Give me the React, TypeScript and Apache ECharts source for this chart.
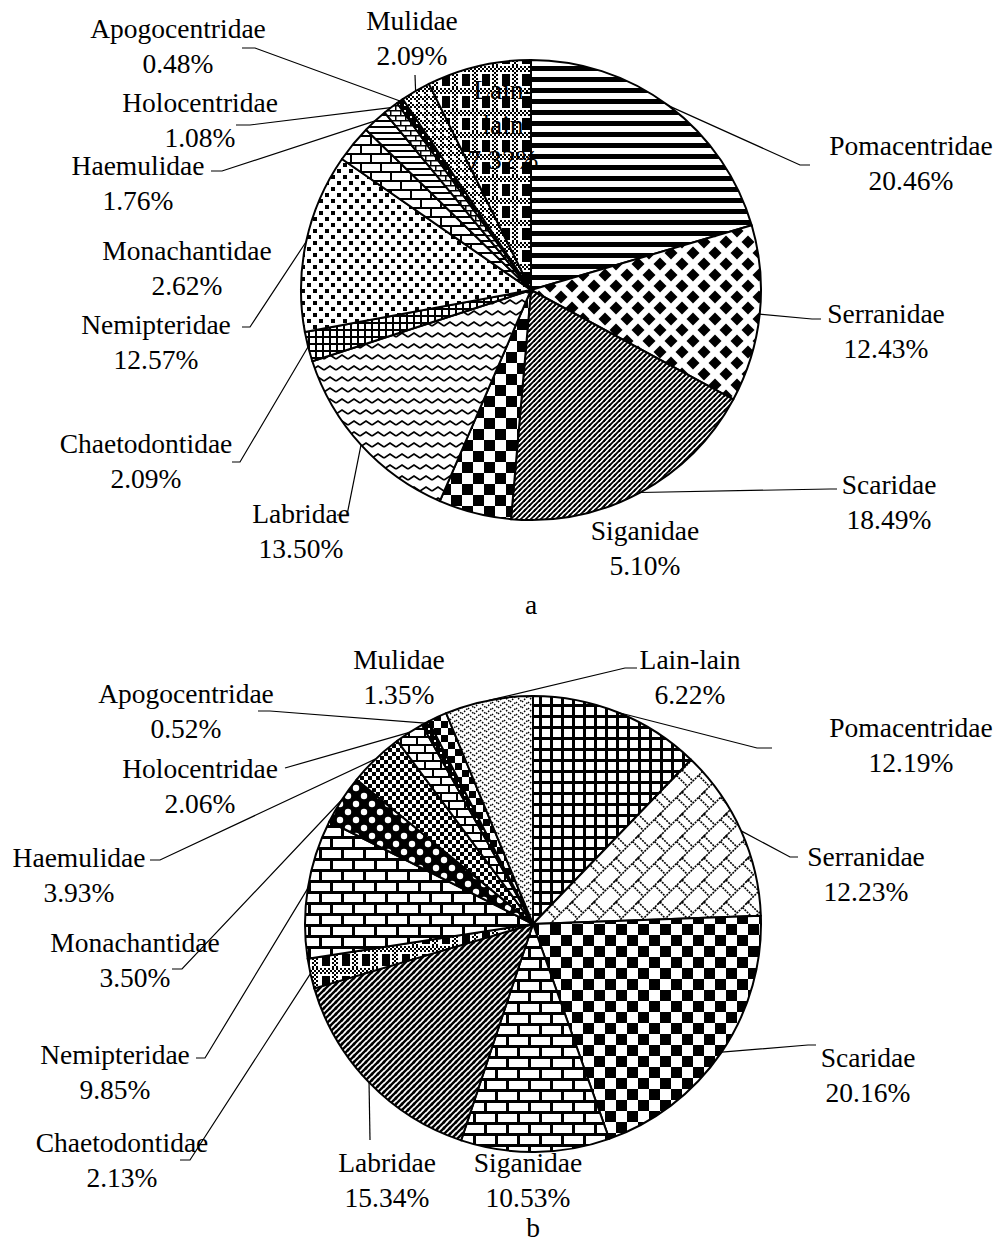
import React, { useEffect, useRef } from 'react';
import * as echarts from 'echarts';

// ---- data ----
const FAMILIES = [
  'Pomacentridae', 'Serranidae', 'Scaridae', 'Siganidae', 'Labridae', 'Chaetodontidae',
  'Nemipteridae', 'Monachantidae', 'Haemulidae', 'Holocentridae', 'Apogocentridae', 'Mulidae', 'Lain-lain',
];
const VALUES_A = [20.46, 12.43, 18.49, 5.10, 13.50, 2.09, 12.57, 2.62, 1.76, 1.08, 0.48, 2.09, 7.32];
const VALUES_B = [12.19, 12.23, 20.16, 10.53, 15.34, 2.13, 9.85, 3.50, 3.93, 2.06, 0.52, 1.35, 6.22];
const CAPTIONS = ['a', 'b'];

// ---- styling / layout ----
const FONT = "'Liberation Serif', 'Times New Roman', serif";
const FONT_SIZE = 27.5;
const LINE_H = 35;

const PAT_A = ['hstripe', 'diamond', 'diagFine', 'checker11', 'zigzag', 'grid7', 'dots', 'brickA', 'hline6', 'brickSmall', 'dotsOnBlack', 'fineMesh', 'plaid'];
const PAT_B = ['grid11', 'diagBrick', 'checker11', 'brick22', 'diag6', 'plaid', 'brick22', 'spheres', 'checker4', 'brick16', 'dotsOnBlack', 'checker7', 'maze'];

type Lay = { x: number; y: number; pts?: number[][]; text?: string };

const LAYOUT_A: Lay[] = [
  { x: 911, y: 163, pts: [[800, 165], [810, 165]] },
  { x: 886, y: 331, pts: [[812, 319], [821, 319]] },
  { x: 889, y: 502, pts: [[830, 489], [837, 489]] },
  { x: 645, y: 548 },
  { x: 301, y: 531, pts: [[347, 515], [337, 515]] },
  { x: 146, y: 461, pts: [[240, 462], [232, 462]] },
  { x: 156, y: 342, pts: [[250, 327], [242, 327]] },
  { x: 187, y: 268 },
  { x: 138, y: 183, pts: [[222, 171], [211, 171]] },
  { x: 200, y: 120, pts: [[250, 125], [236, 125]] },
  { x: 178, y: 46, pts: [[255, 48], [242, 48]] },
  { x: 412, y: 38, pts: [[415, 75]] },
  { x: 503, y: 124, text: 'Lain-\nlain\n7.32%' },
];

const LAYOUT_B: Lay[] = [
  { x: 911, y: 745, pts: [[757, 748], [772, 748]] },
  { x: 866, y: 874, pts: [[790, 857], [798, 857]] },
  { x: 868, y: 1075, pts: [[808, 1045], [816, 1045]] },
  { x: 528, y: 1180 },
  { x: 387, y: 1180, pts: [[370, 1140]] },
  { x: 122, y: 1160, pts: [[190, 1160], [180, 1160]] },
  { x: 115, y: 1072, pts: [[205, 1058], [196, 1058]] },
  { x: 135, y: 960, pts: [[182, 969], [172, 969]] },
  { x: 79, y: 875, pts: [[160, 860], [150, 860]] },
  { x: 200, y: 786, pts: [[285, 768]] },
  { x: 186, y: 711, pts: [[270, 711], [258, 711]] },
  { x: 399, y: 677 },
  { x: 690, y: 677, pts: [[625, 668], [637, 668]] },
];

type Pat = { image: string; repeat: string; imageWidth: number; imageHeight: number };

function tile(w: number, h: number, draw: (c: CanvasRenderingContext2D) => void, bg = '#fff', fg = '#000'): Pat {
  const cv = document.createElement('canvas');
  cv.width = w;
  cv.height = h;
  const c = cv.getContext('2d') as CanvasRenderingContext2D;
  c.fillStyle = bg;
  c.fillRect(0, 0, w, h);
  for (const dx of [-w, 0, w]) {
    for (const dy of [-h, 0, h]) {
      c.save();
      c.translate(dx, dy);
      c.fillStyle = fg;
      c.strokeStyle = fg;
      draw(c);
      c.restore();
    }
  }
  return { image: cv.toDataURL(), repeat: 'repeat', imageWidth: w, imageHeight: h };
}
function seg(c: CanvasRenderingContext2D, x1: number, y1: number, x2: number, y2: number) {
  c.beginPath();
  c.moveTo(x1, y1);
  c.lineTo(x2, y2);
  c.stroke();
}
function dia(c: CanvasRenderingContext2D, x: number, y: number, r: number) {
  c.beginPath();
  c.moveTo(x, y - r);
  c.lineTo(x + r, y);
  c.lineTo(x, y + r);
  c.lineTo(x - r, y);
  c.closePath();
  c.fill();
}
function fineChecker(c: CanvasRenderingContext2D, x0: number, y0: number, w: number, h: number) {
  for (let x = x0; x < x0 + w; x += 2) {
    for (let y = y0; y < y0 + h; y += 2) {
      if (((x + y) / 2) % 2 === 0) c.fillRect(x, y, 2, 2);
    }
  }
}

function buildPatterns(): Record<string, Pat> {
  return {
    hstripe: tile(8, 11, (c) => c.fillRect(0, 0, 8, 5)),
    diamond: tile(22, 22, (c) => { dia(c, 0, 0, 6.5); dia(c, 11, 11, 6.5); }),
    diagFine: tile(5, 5, (c) => { c.lineWidth = 1.8; seg(c, -1, 6, 6, -1); }),
    checker11: tile(22, 22, (c) => { c.fillRect(0, 0, 11, 11); c.fillRect(11, 11, 11, 11); }),
    zigzag: tile(12, 11, (c) => {
      c.lineWidth = 1.7;
      c.beginPath(); c.moveTo(0, 7); c.lineTo(6, 3); c.lineTo(12, 7); c.stroke();
    }),
    grid7: tile(7, 7, (c) => { c.fillRect(0, 0, 7, 2); c.fillRect(0, 0, 2, 7); }),
    dots: tile(12, 12, (c) => { c.fillRect(1, 1, 4, 4); c.fillRect(7, 7, 4, 4); }),
    brickA: tile(20, 18, (c) => {
      c.fillRect(0, 0, 20, 2); c.fillRect(0, 9, 20, 2); c.fillRect(0, 0, 2, 9); c.fillRect(10, 9, 2, 9);
    }),
    hline6: tile(6, 6, (c) => c.fillRect(0, 0, 6, 2)),
    brickSmall: tile(10, 10, (c) => {
      c.fillRect(0, 0, 10, 1.5); c.fillRect(0, 5, 10, 1.5); c.fillRect(0, 0, 1.5, 5); c.fillRect(5, 5, 1.5, 5);
    }),
    dotsOnBlack: tile(6, 6, (c) => c.fillRect(2, 2, 2, 2), '#000', '#fff'),
    fineMesh: tile(8, 8, (c) => {
      fineChecker(c, 0, 0, 8, 4); fineChecker(c, 0, 0, 4, 8);
    }),
    plaid: tile(20, 22, (c) => {
      fineChecker(c, 0, 0, 20, 6);
      fineChecker(c, 12, 6, 6, 16);
      c.fillRect(2, 8, 8, 12);
    }),
    grid11: tile(11, 11, (c) => { c.fillRect(0, 0, 11, 3); c.fillRect(0, 0, 3, 11); }),
    diagBrick: tile(22, 22, (c) => {
      c.lineWidth = 1.6;
      c.setLineDash([2, 1]);
      seg(c, -2, 24, 24, -2); seg(c, 0, 0, 11, 11); seg(c, 16.5, 5.5, 27.5, 16.5);
    }),
    brick22: tile(22, 22, (c) => {
      c.fillRect(0, 0, 22, 3); c.fillRect(0, 11, 22, 3); c.fillRect(0, 0, 3, 11); c.fillRect(11, 11, 3, 11);
    }),
    diag6: tile(6, 6, (c) => { c.lineWidth = 2.4; seg(c, -1, 7, 7, -1); }),
    spheres: tile(16, 16, (c) => {
      c.beginPath(); c.arc(4, 4, 3.2, 0, Math.PI * 2); c.fill();
      c.beginPath(); c.arc(12, 12, 3.2, 0, Math.PI * 2); c.fill();
    }, '#000', '#fff'),
    checker4: tile(8, 8, (c) => { c.fillRect(0, 0, 4, 4); c.fillRect(4, 4, 4, 4); }),
    brick16: tile(16, 16, (c) => {
      c.fillRect(0, 0, 16, 2); c.fillRect(0, 8, 16, 2); c.fillRect(0, 0, 2, 8); c.fillRect(8, 8, 2, 8);
    }),
    checker7: tile(14, 14, (c) => { c.fillRect(0, 0, 7, 7); c.fillRect(7, 7, 7, 7); }),
    maze: tile(12, 12, (c) => {
      c.lineWidth = 1.5;
      c.setLineDash([1.5, 1.5]);
      seg(c, 0, 0, 6, 6); seg(c, 6, 6, 12, 0); seg(c, 0, 6, 6, 12); seg(c, 6, 12, 12, 6);
    }),
  };
}

function makeSeries(values: number[], pats: string[], layout: Lay[], center: number[], radius: number, P: Record<string, Pat>) {
  return {
    type: 'pie',
    center,
    radius,
    startAngle: 90,
    clockwise: true,
    avoidLabelOverlap: false,
    silent: true,
    itemStyle: { borderColor: '#000', borderWidth: 2 },
    label: {
      show: true,
      position: 'outside',
      color: '#000',
      fontFamily: FONT,
      fontSize: FONT_SIZE,
      lineHeight: LINE_H,
      align: 'center',
      formatter: (p: any) => layout[p.dataIndex].text ?? `${p.name}\n${Number(p.value).toFixed(2)}%`,
    },
    labelLine: { show: true, length: 10, length2: 10, lineStyle: { color: '#000', width: 1.2 } },
    labelLayout: (params: any) => {
      const L = layout[params.dataIndex];
      const res: any = { x: L.x, y: L.y, align: 'center', verticalAlign: 'middle' };
      if (L.pts && params.labelLinePoints && params.labelLinePoints.length) {
        res.labelLinePoints = [params.labelLinePoints[0], ...L.pts];
      }
      return res;
    },
    data: FAMILIES.map((name, i) => ({
      name,
      value: values[i],
      itemStyle: { color: P[pats[i]] },
      labelLine: { show: !!layout[i].pts },
    })),
  };
}

export default function App() {
  const ref = useRef<HTMLDivElement>(null);
  useEffect(() => {
    if (!ref.current) return;
    const chart = echarts.init(ref.current, undefined, { renderer: 'svg' });
    const P = buildPatterns();
    chart.setOption({
      animation: false,
      backgroundColor: '#fff',
      series: [
        makeSeries(VALUES_A, PAT_A, LAYOUT_A, [531, 290], 230, P),
        makeSeries(VALUES_B, PAT_B, LAYOUT_B, [533, 924], 228, P),
      ],
      graphic: [
        { type: 'text', x: 531, y: 604, style: { text: CAPTIONS[0], fontFamily: FONT, fontSize: FONT_SIZE, fill: '#000', align: 'center', verticalAlign: 'middle' } },
        { type: 'text', x: 533, y: 1227, style: { text: CAPTIONS[1], fontFamily: FONT, fontSize: FONT_SIZE, fill: '#000', align: 'center', verticalAlign: 'middle' } },
      ],
    } as any);
    return () => chart.dispose();
  }, []);
  return <div ref={ref} style={{ position: 'absolute', left: 0, top: 0, width: 998, height: 1245 }} />;
}
